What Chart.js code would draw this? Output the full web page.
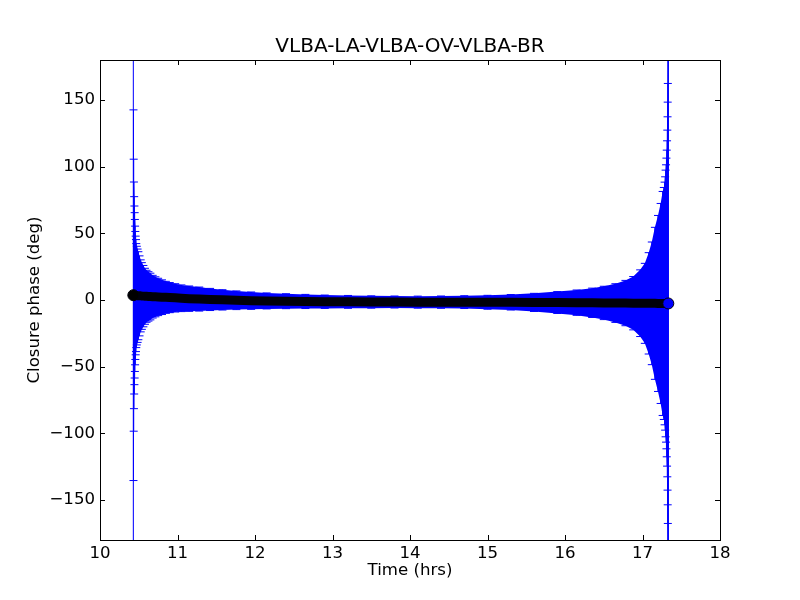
<!DOCTYPE html>
<html lang="en">
<head>
<meta charset="utf-8">
<title>VLBA-LA-VLBA-OV-VLBA-BR</title>
<script src="https://cdn.jsdelivr.net/npm/chart.js@4/dist/chart.umd.min.js"></script>
<style>
  body { margin: 0; background: #fff; }
  #c { display: block; }
</style>
</head>
<body>
<canvas id="c" width="800" height="600"></canvas>
<script>
// time (hrs), closure phase (deg) and its error (deg)
var times = [10.430,10.432,10.435,10.438,10.441,10.444,10.447,10.450,10.453,10.456,10.460,10.464,10.468,
  10.475,10.485,10.495,10.510,10.525,10.540,10.560,10.580,10.600,10.625,10.650,10.680,10.715,10.750,
  10.800,10.850,10.900,10.970,11.050,11.150,11.280,11.420,11.580,11.760,11.950,12.150,12.400,12.650,
  12.900,13.200,13.500,13.800,14.100,14.400,14.700,15.000,15.300,15.600,15.900,16.150,16.350,16.500,
  16.650,16.780,16.880,16.970,17.030,17.080,17.120,17.160,17.200,17.234,17.260,17.275,17.285,17.292,
  17.298,17.304,17.309,17.313,17.317,17.320,17.323,17.325,17.327,17.329,17.331,17.333];
var phase = [3.6,3.6,3.6,3.5,3.5,3.5,3.5,3.4,3.4,3.4,3.4,3.3,3.3,
  3.3,3.2,3.2,3.1,3.1,3.0,2.9,2.8,2.8,2.7,2.6,2.5,2.4,2.3,
  2.1,2.0,1.8,1.6,1.3,1.0,0.7,0.4,0.1,-0.2,-0.5,-0.7,-0.9,-1.1,
  -1.3,-1.4,-1.5,-1.5,-1.6,-1.6,-1.6,-1.7,-1.7,-1.8,-1.9,-2.0,-2.1,-2.2,
  -2.3,-2.3,-2.4,-2.4,-2.5,-2.5,-2.5,-2.5,-2.6,-2.6,-2.6,-2.6,-2.6,-2.6,
  -2.6,-2.6,-2.6,-2.6,-2.6,-2.6,-2.6,-2.6,-2.6,-2.6,-2.6,-2.6];
var err = [260,139,102,85,74,67,62,57,52,48,44.5,42,39,
  37,35,33,30,27,25,23,21,19.5,18.5,17.5,16,15,14,
  13,12,11.3,10.6,10,9.5,9,8.3,7.6,7,6.5,6,5.6,5.3,
  5,4.8,4.6,4.5,4.5,4.6,4.8,5.2,5.8,6.8,8.2,9.5,11,12.5,
  14.5,17,20,25,30,38,46,57,66,75,84,87,91,95,
  100,104,109,115,122,130,140,151,165,200,240,260];

var xTicks = [10, 11, 12, 13, 14, 15, 16, 17, 18];
var yTicks = [-150, -100, -50, 0, 50, 100, 150];

var font = { family: "'DejaVu Sans', sans-serif", size: 16.6 };
var last = times.length - 1;

function minus(v) {
  return v < 0 ? '\u2212' + Math.abs(v) : '' + v;
}

// error bars with caps, drawn just before the phase line so they sit under it
var errorBars = {
  id: 'errorBars',
  beforeDatasetDraw: function (chart, args) {
    if (args.index !== 0) return;
    var xs = chart.scales.x, ys = chart.scales.y, a = chart.chartArea;
    var ctx = chart.ctx;
    ctx.save();
    ctx.beginPath();
    ctx.rect(a.left, a.top, a.right - a.left, a.bottom - a.top);
    ctx.clip();
    for (var i = 0; i < times.length; i++) {
      var px = xs.getPixelForValue(times[i]);
      var yt = ys.getPixelForValue(phase[i] + err[i]);
      var yb = ys.getPixelForValue(phase[i] - err[i]);
      ctx.strokeStyle = '#0000ff';
      ctx.lineWidth = 1;
      ctx.beginPath();
      ctx.moveTo(px, yt); ctx.lineTo(px, yb);
      ctx.moveTo(px - 4, yt); ctx.lineTo(px + 4, yt);
      ctx.moveTo(px - 4, yb); ctx.lineTo(px + 4, yb);
      ctx.stroke();
    }
    ctx.restore();
  }
};

// matplotlib style frame with inward ticks on all four sides
var frame = {
  id: 'frame',
  afterDraw: function (chart) {
    var xs = chart.scales.x, ys = chart.scales.y, a = chart.chartArea;
    var ctx = chart.ctx;
    ctx.save();
    ctx.strokeStyle = '#000';
    ctx.lineWidth = 1;
    ctx.beginPath();
    xTicks.forEach(function (t) {
      var px = Math.round(xs.getPixelForValue(t)) + 0.5;
      ctx.moveTo(px, a.bottom); ctx.lineTo(px, a.bottom - 5);
      ctx.moveTo(px, a.top); ctx.lineTo(px, a.top + 5);
    });
    yTicks.forEach(function (t) {
      var py = Math.round(ys.getPixelForValue(t)) + 0.5;
      ctx.moveTo(a.left, py); ctx.lineTo(a.left + 5, py);
      ctx.moveTo(a.right, py); ctx.lineTo(a.right - 5, py);
    });
    ctx.stroke();
    ctx.strokeRect(Math.round(a.left) + 0.5, Math.round(a.top) + 0.5,
      Math.round(a.right - a.left), Math.round(a.bottom - a.top));
    ctx.restore();
  }
};

new Chart(document.getElementById('c'), {
  type: 'line',
  data: {
    datasets: [{
      label: 'phase',
      data: times.map(function (t, i) { return { x: t, y: phase[i] }; }),
      borderColor: '#00000a',
      borderWidth: 9,
      borderCapStyle: 'round',
      borderJoinStyle: 'round',
      tension: 0,
      pointRadius: function (c) { return (c.dataIndex === 0 || c.dataIndex === last) ? 5.5 : 0; },
      pointBackgroundColor: function (c) { return c.dataIndex === last ? '#0000ff' : '#000000'; },
      pointBorderColor: '#00000a',
      pointBorderWidth: 1,
      order: 0
    }, {
      label: 'upper',
      data: times.map(function (t, i) { return { x: t, y: phase[i] + err[i] }; }),
      borderColor: 'rgba(0,0,0,0)',
      borderWidth: 0,
      pointRadius: 0,
      fill: false,
      order: 3
    }, {
      label: 'lower',
      data: times.map(function (t, i) { return { x: t, y: phase[i] - err[i] }; }),
      borderColor: 'rgba(0,0,0,0)',
      borderWidth: 0,
      pointRadius: 0,
      backgroundColor: '#0000ff',
      fill: '-1',
      order: 2
    }]
  },
  options: {
    responsive: false,
    animation: false,
    events: [],
    layout: { padding: { left: 0, right: 80, top: 0, bottom: 0 } },
    plugins: {
      legend: { display: false },
      tooltip: { enabled: false },
      title: {
        display: true,
        text: 'VLBA-LA-VLBA-OV-VLBA-BR',
        color: '#000',
        fullSize: false,
        font: { family: font.family, size: 20, weight: 'normal' },
        padding: { top: 34.5, bottom: 1.5 }
      }
    },
    scales: {
      x: {
        type: 'linear',
        min: 10, max: 18,
        grid: { display: false, drawTicks: false },
        border: { display: false },
        afterBuildTicks: function (s) { s.ticks = xTicks.map(function (v) { return { value: v }; }); },
        afterFit: function (s) { s.height = 60; },
        ticks: { color: '#000', font: font, padding: 4, maxRotation: 0, callback: minus },
        title: { display: true, text: 'Time (hrs)', color: '#000', font: font, padding: { top: 0, bottom: 19 } }
      },
      y: {
        type: 'linear',
        min: -180, max: 180,
        grid: { display: false, drawTicks: false },
        border: { display: false },
        afterBuildTicks: function (s) { s.ticks = yTicks.map(function (v) { return { value: v }; }); },
        afterFit: function (s) { s.width = 100; },
        ticks: { color: '#000', font: font, padding: 5, callback: minus },
        title: { display: true, text: 'Closure phase (deg)', color: '#000', font: font, padding: { top: 25, bottom: 0 } }
      }
    }
  },
  plugins: [errorBars, frame]
});
</script>
</body>
</html>
